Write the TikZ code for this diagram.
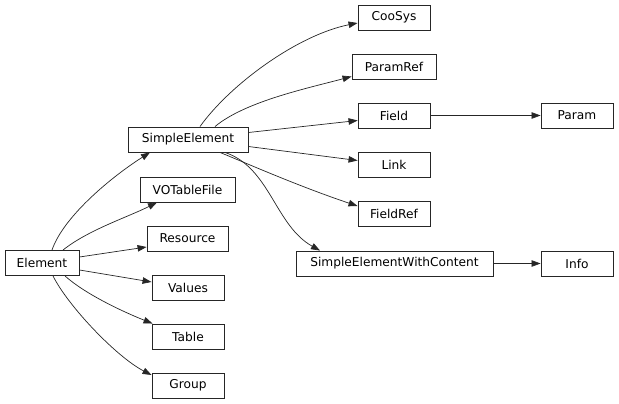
\documentclass[tikz,border=0pt]{standalone}
\usepackage{fontspec}
\setmainfont{DejaVu Sans}
\usetikzlibrary{calc,arrows.meta}
\begin{document}
\begin{tikzpicture}[x=1pt,y=-1pt,
  cls/.style={draw=black!85,line width=0.9pt,rectangle,minimum height=25pt,inner xsep=0pt,inner ysep=0pt,font=\fontsize{12.2}{14}\selectfont},
  edge/.style={draw=black!85,line width=0.7pt,-{Triangle[length=9pt,width=6.5pt]}}]
\useasboundingbox (0,0) rectangle (619,404);
\node[cls,minimum width=74pt]  (el)   at (42,263)    {Element};
\node[cls,minimum width=120pt] (se)   at (188,139.5) {SimpleElement};
\node[cls,minimum width=95pt]  (vo)   at (187.5,189.5) {VOTableFile};
\node[cls,minimum width=81pt]  (res)  at (187.5,238.5) {Resource};
\node[cls,minimum width=72pt]  (val)  at (188,287.5) {Values};
\node[cls,minimum width=72pt]  (tab)  at (188,336.5) {Table};
\node[cls,minimum width=72pt]  (grp)  at (188,385.5) {Group};
\node[cls,minimum width=72pt]  (coo)  at (394,17.5)  {CooSys};
\node[cls,minimum width=84pt]  (pr)   at (394,66.5)  {ParamRef};
\node[cls,minimum width=72pt]  (fld)  at (394,115.5) {Field};
\node[cls,minimum width=72pt]  (lnk)  at (394,164.5) {Link};
\node[cls,minimum width=72pt]  (fr)   at (394,213.5) {FieldRef};
\node[cls,minimum width=197pt] (sewc) at (394.5,263.5) {SimpleElementWithContent};
\node[cls,minimum width=72pt]  (par)  at (577,115.5) {Param};
\node[cls,minimum width=72pt]  (info) at (577,263.5) {Info};

% Element children
\draw[edge] ($(el.north)+(10,0)$) .. controls +(12,-35) and +(-35,22) .. ($(se.south)+(-38,0)$);
\draw[edge] ($(el.north)+(21,0)$) .. controls +(25,-20) and +(-30,15) .. ($(vo.south)+(-30.5,0)$);
\draw[edge] ($(el.east)+(0,-6)$) -- ($(res.west)+(0,8.5)$);
\draw[edge] ($(el.east)+(0,7)$) -- ($(val.west)+(0,-5.5)$);
\draw[edge] ($(el.south)+(23,0)$) .. controls +(20,18) and +(-30,-12) .. ($(tab.north west)+(1,0)$);
\draw[edge] ($(el.south)+(11,0)$) .. controls +(15,30) and +(-35,-18) .. ($(grp.west)+(0,-10.5)$);

% SimpleElement children
\draw[edge] ($(se.north)+(12,0)$) .. controls +(30,-42) and +(-60,12) .. ($(coo.west)+(0,5.5)$);
\draw[edge] ($(se.north)+(27,0)$) .. controls +(30,-25) and +(-45,12) .. ($(pr.west)+(0,10)$);
\draw[edge] ($(se.east)+(0,-7)$) -- ($(fld.west)+(0,5)$);
\draw[edge] ($(se.east)+(0,7)$) -- ($(lnk.west)+(0,-4)$);
\draw[edge] ($(se.south)+(32,0)$) .. controls +(20,8) and +(-60,-20) .. ($(fr.west)+(0,-7.5)$);
\draw[edge] ($(se.south)+(37,0)$) .. controls +(45,15) and +(-45,-25) .. ($(sewc.north)+(-74.5,0)$);

% others
\draw[edge] (fld.east) -- (par.west);
\draw[edge] (sewc.east) -- (info.west);
\end{tikzpicture}
\end{document}
